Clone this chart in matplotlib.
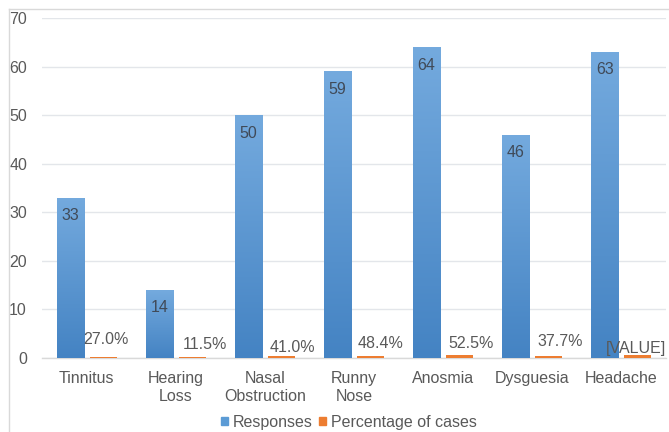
import matplotlib
matplotlib.use("Agg")
import matplotlib.pyplot as plt
import numpy as np
from matplotlib.patches import Patch
from matplotlib.lines import Line2D

categories = ["Tinnitus", "Hearing\nLoss", "Nasal\nObstruction", "Runny\nNose",
              "Anosmia", "Dysguesia", "Headache"]
responses = [33, 14, 50, 59, 64, 46, 63]
percentages = [0.270, 0.115, 0.410, 0.484, 0.525, 0.377, 0.516]
pct_labels = ["27.0%", "11.5%", "41.0%", "48.4%", "52.5%", "37.7%", "[VALUE]"]
yticks = [0, 10, 20, 30, 40, 50, 60, 70]

# label offsets (pixels) relative to top of orange bar
pct_offsets = [(2.6, 18.5), (12.8, 13.5), (10.7, 10), (10.1, 14.5), (11.9, 14.5), (11.8, 16), (-1.9, 9)]

FS = 11.5
plt.rcParams['font.family'] = ['Liberation Sans', 'DejaVu Sans']
W, H = 669, 432
fig = plt.figure(figsize=(W / 100, H / 100), dpi=100)
ax = fig.add_axes([42 / W, (H - 358) / H, (666 - 42) / W, (358 - 18) / H])

n = len(categories)
x = np.arange(n)
bw = 0.303
off = 0.185

blue_bars = ax.bar(x - off, responses, bw, color='#5B9BD5', edgecolor='#c9dcf0',
                   linewidth=0.6, zorder=3, label='Responses')
org_bars = ax.bar(x + off, percentages, bw, color='#ED7D31', linewidth=0, zorder=3,
                  label='Percentage of cases')

# gradient fill for blue bars
top_c = np.array([0x74, 0xAA, 0xDE]) / 255
bot_c = np.array([0x44, 0x83, 0xC3]) / 255
grad = np.linspace(0, 1, 256)[:, None]
img = top_c[None, None, :] * (1 - grad[..., None]) + bot_c[None, None, :] * grad[..., None]
img = np.repeat(img, 2, axis=1)
for b in blue_bars:
    x0, w, h = b.get_x(), b.get_width(), b.get_height()
    im = ax.imshow(img, extent=[x0, x0 + w, 0, h], aspect='auto', zorder=3.1,
                   interpolation='bilinear')
    im.set_clip_path(b)

for b, v in zip(blue_bars, responses):
    ax.annotate(str(v), (b.get_x() + b.get_width() / 2, v), xytext=(0, -18),
                textcoords='offset pixels', ha='center', va='center',
                fontsize=FS, color='#404a58', zorder=5)

for b, lab, (dx, dy) in zip(org_bars, pct_labels, pct_offsets):
    ax.annotate(lab, (b.get_x() + b.get_width() / 2, 0), xytext=(dx, dy),
                textcoords='offset pixels', ha='center', va='center',
                fontsize=FS, color='#595959', zorder=5)

ax.set_xlim(-0.5, n - 0.5)
ax.set_ylim(0, 70)
ax.set_yticks(yticks)
ax.set_xticks(x)
ax.set_xticklabels(categories, linespacing=1.27)
ax.tick_params(axis='both', length=0, labelsize=FS, labelcolor='#595959')
ax.tick_params(axis='y', pad=10.8)
ax.tick_params(axis='x', pad=9.5)
ax.grid(axis='y', color='#e3e6ea', linewidth=1, zorder=0)
for s in ['top', 'right', 'left']:
    ax.spines[s].set_visible(False)
ax.spines['bottom'].set_color('#d9d9d9')
ax.spines['bottom'].set_linewidth(1)
ax.spines['bottom'].set_zorder(2)

# chart border
fig.add_artist(Line2D([8.5 / W, 8.5 / W], [0, (H - 8.5) / H], transform=fig.transFigure,
                      color='#d9d9d9', linewidth=1))
fig.add_artist(Line2D([8.5 / W, 1], [(H - 8.5) / H, (H - 8.5) / H], transform=fig.transFigure,
                      color='#d9d9d9', linewidth=1))

handles = [Patch(color='#5B9BD5', label='Responses'),
           Patch(color='#ED7D31', label='Percentage of cases')]
fig.legend(handles=handles, loc='center', bbox_to_anchor=(349 / W, 1 - 422 / H),
           ncol=2, frameon=False, fontsize=FS, handlelength=0.45, handleheight=0.45,
           handletextpad=0.3, columnspacing=0.4, labelcolor='#595959', borderpad=0)

fig.savefig('out.png', dpi=100)
